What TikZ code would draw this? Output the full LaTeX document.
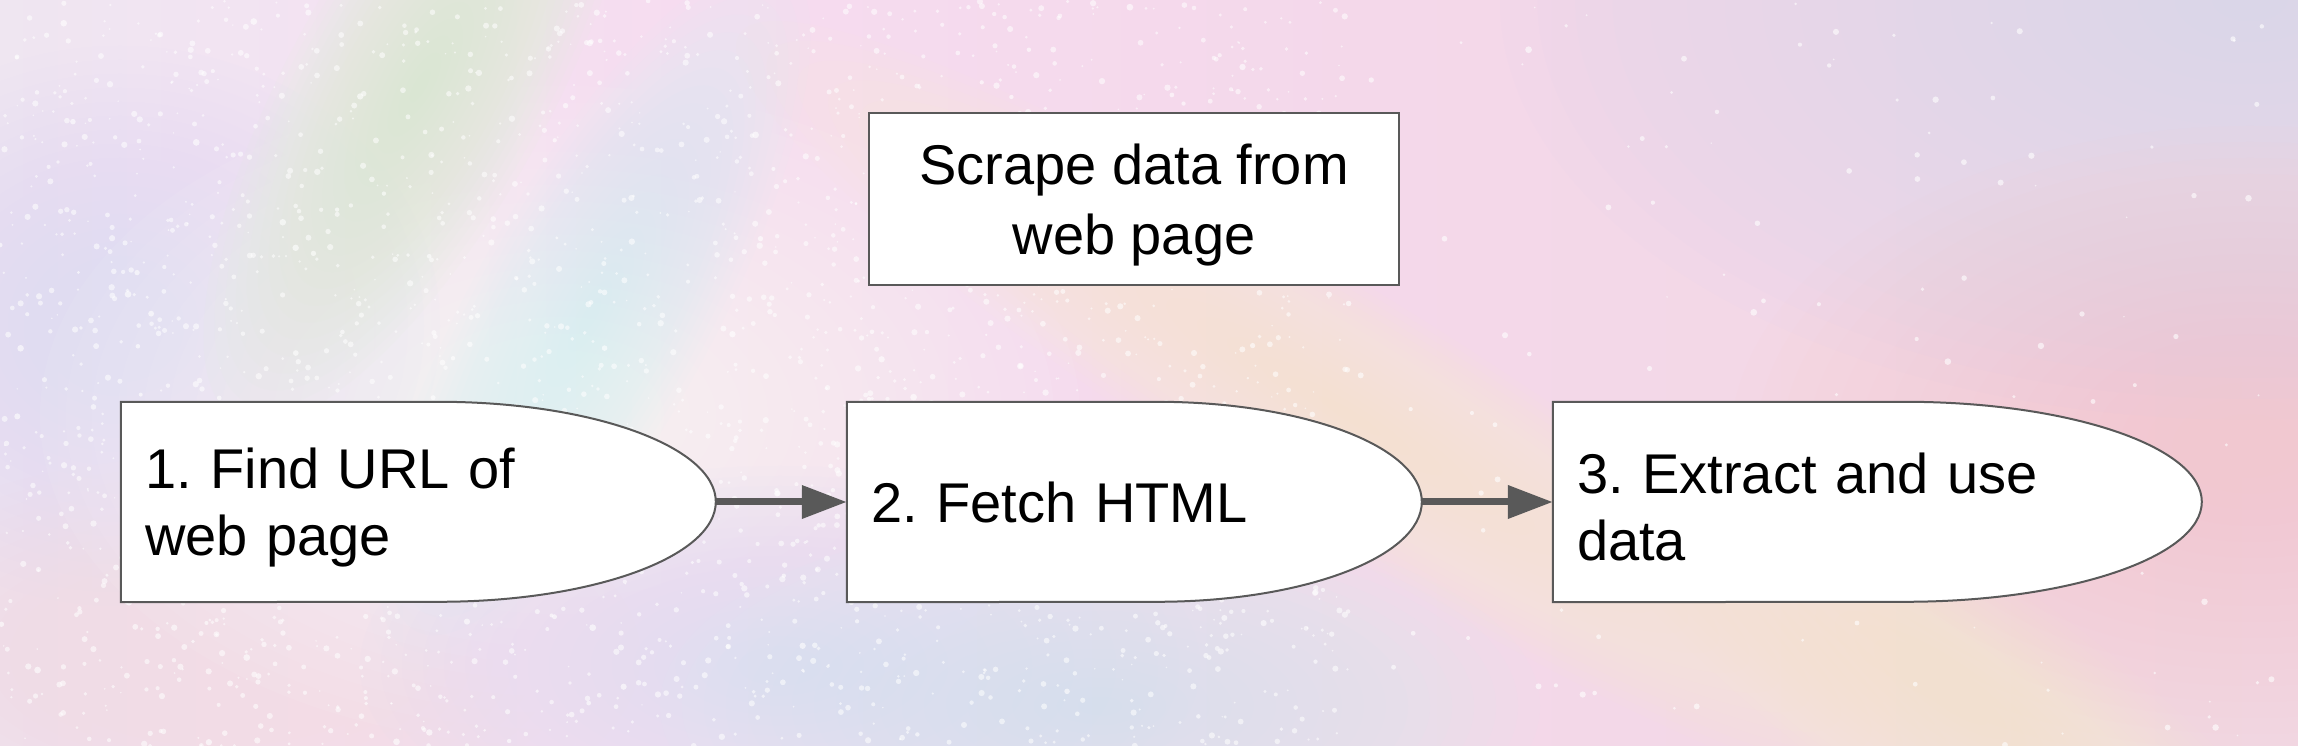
\documentclass[tikz,border=0pt]{standalone}
\usepackage{fontspec}
\setmainfont{Liberation Sans}
\usetikzlibrary{arrows.meta}
\pgfdeclarelayer{bglayer}
\pgfdeclarelayer{shapelayer}
\pgfsetlayers{bglayer,shapelayer,main}
\definecolor{edge}{HTML}{595959}
\definecolor{bgA}{HTML}{E6E0F4}
\definecolor{bgB}{HTML}{E8E4F4}
\definecolor{bgC}{HTML}{EAE8F0}
\definecolor{bgD}{HTML}{F2E4F2}
\definecolor{bgE}{HTML}{F6DCF0}
\definecolor{bgF}{HTML}{F4D8EA}
\definecolor{bgG}{HTML}{F2D8E4}
\definecolor{bgH}{HTML}{EED8E6}
\definecolor{bgI}{HTML}{E2DAF4}
\definecolor{lav}{HTML}{DAD6F8}
\definecolor{lavb}{HTML}{E0DCF6}
\definecolor{grn}{HTML}{D8F6CE}
\definecolor{cyn}{HTML}{D6F2F2}
\definecolor{cynb}{HTML}{D6EEF6}
\definecolor{yel}{HTML}{F8F0D0}
\definecolor{sal}{HTML}{F6C8D0}
\definecolor{peach}{HTML}{F6DCE6}
\pgfdeclarehorizontalshading{rainbowbg}{100bp}{color(0bp)=(bgA); color(8bp)=(bgB); color(18bp)=(bgC); color(30bp)=(bgD); color(40bp)=(bgE); color(55bp)=(bgF); color(70bp)=(bgG); color(85bp)=(bgH); color(100bp)=(bgI)}
% soft blob: colour, x, y, x radius, y radius, angle
\newcommand\hazeblob[6]{%
  \foreach \k in {1,...,20}{%
    \fill[#1, opacity=0.06, rotate around={#6:(#2,#3)}] (#2,#3) ellipse [x radius={#4*\k/20}, y radius={#5*\k/20}];
  }%
}
\tikzset{
  stepnode/.style={rectangle, inner xsep=24pt, inner ysep=0pt, minimum height=200pt, align=left, font=\fontsize{56}{67}\selectfont},
  titlebox/.style={rectangle, draw=edge, line width=2pt, fill=white, minimum width=530pt, minimum height=172pt, align=center, inner sep=0pt, font=\fontsize{56}{70}\selectfont},
  outline/.style={draw=edge, line width=2pt, fill=white},
  flow/.style={draw=edge, line width=7pt, -{Triangle[length=45pt,width=32pt]}}
}
\frenchspacing
\begin{document}
\begin{tikzpicture}[x=1pt,y=1pt]
\useasboundingbox (0,0) rectangle (2298,746);
\begin{pgfonlayer}{bglayer}
  \begin{scope}
    \clip (0,0) rectangle (2298,746);
    \shade[shading=rainbowbg] (0,0) rectangle (2298,746);
    \hazeblob{lav}{2250}{746}{750}{420}{0}
    \hazeblob{sal}{2250}{300}{520}{320}{0}
    \hazeblob{lavb}{120}{420}{320}{280}{0}
    \hazeblob{peach}{220}{90}{420}{200}{0}
    \hazeblob{white}{560}{330}{520}{330}{0}
    \hazeblob{grn}{420}{660}{380}{130}{61}
    \hazeblob{cyn}{590}{430}{400}{120}{61}
    \hazeblob{lavb}{780}{80}{420}{200}{0}
    \hazeblob{cynb}{1100}{40}{440}{190}{0}
    \hazeblob{yel}{1350}{330}{720}{120}{-32}
    \hazeblob{yel}{1950}{50}{460}{130}{-35}
    \pgfmathsetseed{4242}
    \foreach \i in {1,...,2200}{
      \pgfmathsetmacro\px{rnd*1350}
      \pgfmathsetmacro\py{rnd*746}
      \pgfmathsetmacro\pr{0.8+rnd*2.4}
      \fill[white, opacity=0.55] (\px,\py) circle (\pr);
    }
    \foreach \i in {1,...,300}{
      \pgfmathsetmacro\px{rnd*2298}
      \pgfmathsetmacro\py{rnd*746}
      \pgfmathsetmacro\pr{0.8+rnd*2.6}
      \fill[white, opacity=0.6] (\px,\py) circle (\pr);
    }
  \end{scope}
\end{pgfonlayer}

\node[titlebox] (title) at (1134,547) {\rule{0pt}{53pt}Scrape data from\\web page};

\node[stepnode, text width=547pt] (s1) at (418.5,244) {\rule{0pt}{51pt}1. Find URL of\\web page};
\node[stepnode, text width=527pt] (s2) at (1134.5,244) {2. Fetch HTML};
\node[stepnode, text width=601pt] (s3) at (1877.5,244) {\rule{0pt}{51pt}3. Extract and use\\data};

\begin{pgfonlayer}{shapelayer}
  \draw[outline] (s1.north west) -- ++(318,0) arc[start angle=90, end angle=-90, x radius=277, y radius=100] -- (s1.south west) -- cycle;
  \draw[outline] (s2.north west) -- ++(310,0) arc[start angle=90, end angle=-90, x radius=265, y radius=100] -- (s2.south west) -- cycle;
  \draw[outline] (s3.north west) -- ++(352,0) arc[start angle=90, end angle=-90, x radius=297, y radius=100] -- (s3.south west) -- cycle;
\end{pgfonlayer}

\draw[flow] (s1.east) -- (s2.west);
\draw[flow] (s2.east) -- (s3.west);
\end{tikzpicture}
\end{document}
